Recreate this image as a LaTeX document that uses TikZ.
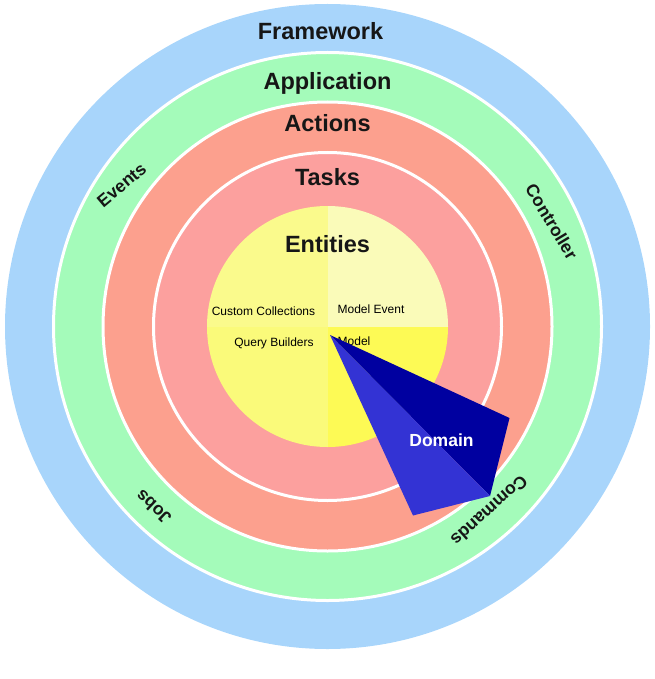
\documentclass[tikz,border=0pt]{standalone}
\usepackage{fontspec}
\setmainfont{Liberation Sans}
\definecolor{fwblue}{RGB}{168,213,251}
\definecolor{appgreen}{RGB}{164,251,186}
\definecolor{actsalmon}{RGB}{252,160,142}
\definecolor{taskpink}{RGB}{252,160,158}
\definecolor{yTL}{RGB}{250,250,140}
\definecolor{yTR}{RGB}{250,251,185}
\definecolor{yBL}{RGB}{250,250,122}
\definecolor{yBR}{RGB}{253,250,85}
\definecolor{dkblue}{RGB}{0,0,160}
\definecolor{ltblue}{RGB}{51,51,212}
\definecolor{inkc}{RGB}{22,22,22}
\begin{document}
\begin{tikzpicture}[x=1pt,y=-1pt,
  title/.style={font=\fontsize{23.5}{28}\selectfont\bfseries, text=inkc, inner sep=0pt, anchor=base},
  small/.style={font=\fontsize{12}{14}\selectfont, text=black, inner sep=0pt, anchor=base},
  ringlbl/.style={font=\fontsize{17.6}{20}\selectfont\bfseries, text=inkc, inner sep=0pt},
  ring/.style={draw=white, line width=3pt}]
\useasboundingbox (0,0) rectangle (654,679);
\coordinate (C) at (327.5,326.5);
% rings
\fill[fwblue] (C) circle[radius=322.5];
\filldraw[ring, fill=appgreen] (C) circle[radius=274];
\filldraw[ring, fill=actsalmon] (C) circle[radius=224.5];
\filldraw[ring, fill=taskpink] (C) circle[radius=174];
% entities quadrants
\begin{scope}
\clip (C) circle[radius=120.5];
\fill[yTL] (C) rectangle ++(-125,-125);
\fill[yTR] (C) rectangle ++(125,-125);
\fill[yBL] (C) rectangle ++(-125,125);
\fill[yBR] (C) rectangle ++(125,125);
\end{scope}
% titles
\node[title] (fw) at (320.5,39.5) {Framework};
\node[title] (app) at (327.5,89.5) {Application};
\node[title] (act) at (327.5,131.5) {Actions};
\node[title] (tsk) at (327.5,185) {Tasks};
\node[title] (ent) at (327.5,252) {Entities};
% entity parts
\node[small] (cc) at (263.5,315) {Custom Collections};
\node[small] (me) at (371,313) {Model Event};
\node[small] (qb) at (274,346) {Query Builders};
\node[small] (mo) at (354,345) {Model};
% ring labels
\node[ringlbl, rotate=40] (ev) at (121.7,185) {Events};
\node[ringlbl, rotate=-59] (ctl) at (551.7,221.7) {Controller};
\node[ringlbl, rotate=137] (jb) at (153.3,507.5) {Jobs};
\node[ringlbl, rotate=-138] (cmd) at (489.5,511) {Commands};
% domain
\coordinate (apex) at (330,335);
\coordinate (dk) at (509.5,418);
\coordinate (mid) at (490,496);
\coordinate (lt) at (413,515.5);
\fill[dkblue] (apex) -- (dk) -- (mid) -- cycle;
\fill[ltblue] (apex) -- (mid) -- (lt) -- cycle;
\node[font=\fontsize{17.5}{20}\selectfont\bfseries, text=white, inner sep=0pt, anchor=base] (dom) at (441.5,446) {Domain};
\end{tikzpicture}
\end{document}
